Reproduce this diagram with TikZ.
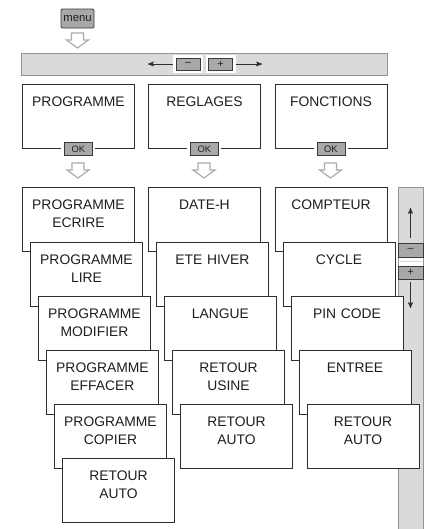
\documentclass[tikz,border=0pt]{standalone}
\usepackage{fontspec}
\setmainfont{Liberation Sans}
\usetikzlibrary{arrows}
\usetikzlibrary{positioning}
\usetikzlibrary{calc}

\definecolor{boxline}{HTML}{2E2E2E}
\definecolor{txt}{HTML}{1E1E1E}
\definecolor{btnfill}{HTML}{A8A8A8}
\definecolor{btnline}{HTML}{3A3A3A}
\definecolor{barfill}{HTML}{DADADA}
\definecolor{barline}{HTML}{959595}
\definecolor{arrline}{HTML}{ABABAB}

\tikzset{downarr/.pic={
    \draw[draw=arrline,fill=white,line width=0.9pt,line join=miter]
      (-6,0) -- (6,0) -- (6,7) -- (11,7) -- (0,15) -- (-11,7) -- (-6,7) -- cycle;
  }}

\begin{document}
\begin{tikzpicture}[x=0.75pt,y=-0.75pt,>=stealth',line width=0.7pt]
		\tikzstyle{item}=[draw=boxline,fill=white,inner sep=0pt,anchor=north west,
			text width=84pt,align=center,text height=16.45pt,text depth=31.55pt,
			font=\fontsize{10.4}{13.5}\selectfont,text=txt]
		\tikzstyle{button}=[draw=btnline,fill=btnfill,inner sep=0pt,text=txt]
		\tikzstyle{okbutton}=[button,minimum width=21pt,minimum height=9.75pt,
			font=\fontsize{7}{8}\selectfont,outer sep=2.25pt,
			preaction={draw=white,line width=4.5pt}]
		\tikzstyle{bar}=[draw=barline,fill=barfill,inner sep=0pt]
		\tikzstyle{conn}=[draw=boxline,line width=0.6pt]
		
		\useasboundingbox (0,0) rectangle (428,529);
		
		% menu key and the +/- bar
		\node[button,rounded corners=1pt,minimum width=24.75pt,minimum height=14.25pt,
			font=\fontsize{8.5}{9}\selectfont] (menu) at (77.5,18.5) {menu};
		\pic at (77.5,33) {downarr};
		\node[bar,minimum width=274.5pt,minimum height=16.5pt] (hbar) at (204,64) {};
		\node[okbutton,minimum width=18pt,minimum height=9pt,font=\fontsize{8}{9}\selectfont]
			(minus) at (188,64) {--};
		\node[okbutton,minimum width=18pt,minimum height=9pt,font=\fontsize{8}{9}\selectfont]
			(plus) at (220.5,64) {+};
		\coordinate (left end) at (148,64);
		\coordinate (right end) at (262,64);
		\draw[conn,->] (minus.west) -- (left end);
		\draw[conn,->] (plus.east) -- (right end);
		
		% scroll bar on the right
		\node[bar,minimum width=18.75pt,minimum height=258.75pt] (vbar) at (410.5,359.5) {};
		\fill[white] (398.5,257.5) rectangle (422.5,265.5);
		\draw[barfill,line width=0.5pt] (398,261.5) -- (423,261.5);
		\node[button,minimum width=18.75pt,minimum height=10.5pt,
			font=\fontsize{8}{9}\selectfont] (sminus) at (410.5,250) {--};
		\node[button,minimum width=18.75pt,minimum height=9.75pt,
			font=\fontsize{8}{9}\selectfont] (splus) at (410.5,272.5) {+};
		\coordinate (scroll up) at (410.5,208);
		\coordinate (scroll down) at (410.5,308);
		\draw[conn,->,shorten <=3.75pt] (sminus.north) -- (scroll up);
		\draw[conn,->,shorten <=2.25pt] (splus.south) -- (scroll down);
		
		% main menus
		\node[item] (P_0) at (22,84)    {PROGRAMME};
		\node[item] (R_0) at (148,84)   {REGLAGES};
		\node[item] (F_0) at (274.5,84) {FONCTIONS};
		\node[okbutton] (ok_P) at (P_0.south) {OK};
		\node[okbutton] (ok_R) at (R_0.south) {OK};
		\node[okbutton] (ok_F) at (F_0.south) {OK};
		\pic at (78,163) {downarr};
		\pic at (204,163) {downarr};
		\pic at (330.5,163) {downarr};
		
		% PROGRAMME
		\node[item] (P_1) at (22,187)  {PROGRAMME\\ECRIRE};
		\node[item] (P_2) at (30,242)  {PROGRAMME\\LIRE};
		\node[item] (P_3) at (38,296)  {PROGRAMME\\MODIFIER};
		\node[item] (P_4) at (46,350)  {PROGRAMME\\EFFACER};
		\node[item] (P_5) at (54,404)  {PROGRAMME\\COPIER};
		\node[item] (P_6) at (62,458)  {RETOUR\\AUTO};
		
		% REGLAGES
		\node[item] (R_1) at (148,187) {DATE-H};
		\node[item] (R_2) at (156,242) {ETE HIVER};
		\node[item] (R_3) at (164,296) {LANGUE};
		\node[item] (R_4) at (172,350) {RETOUR\\USINE};
		\node[item] (R_5) at (180,404) {RETOUR\\AUTO};
		
		% FONCTIONS
		\node[item] (F_1) at (274.5,187) {COMPTEUR};
		\node[item] (F_2) at (282.5,242) {CYCLE};
		\node[item] (F_3) at (290.5,296) {PIN CODE};
		\node[item] (F_4) at (298.5,350) {ENTREE};
		\node[item] (F_5) at (306.5,404) {RETOUR\\AUTO};
		\end{tikzpicture}
\end{document}
